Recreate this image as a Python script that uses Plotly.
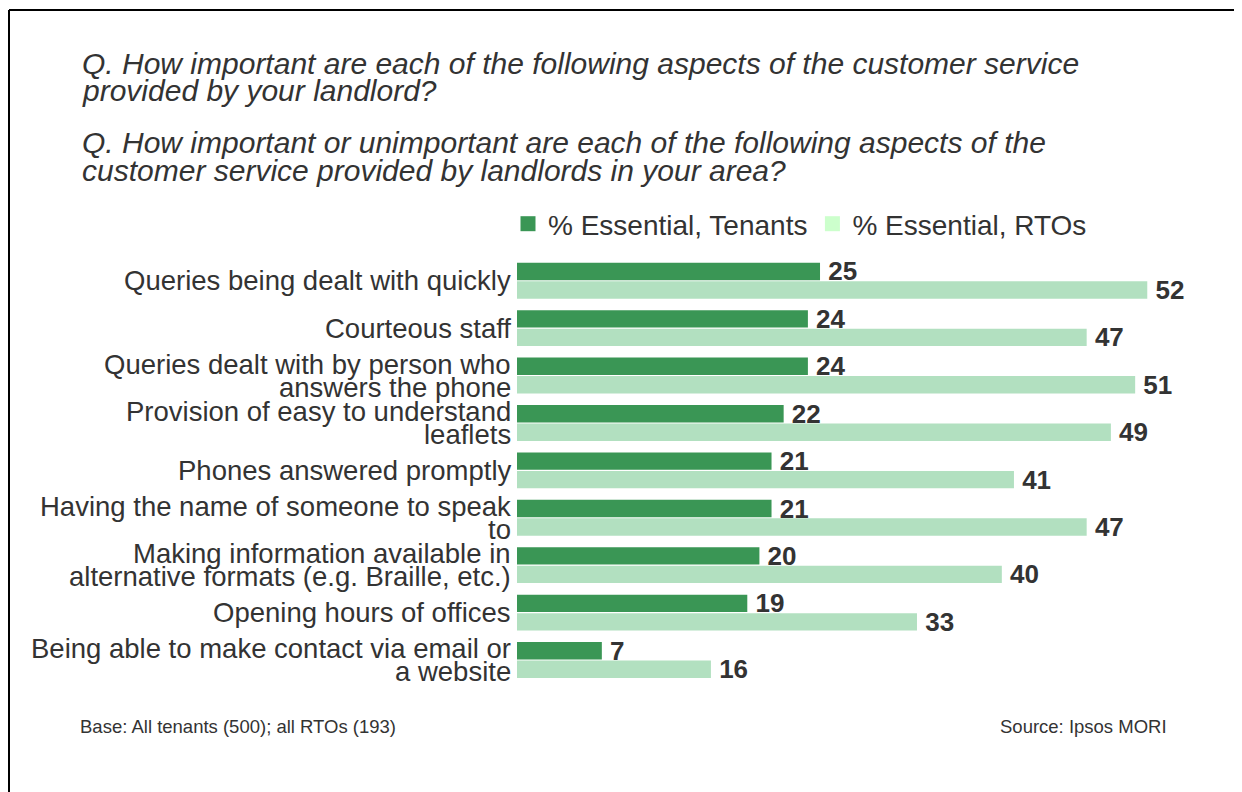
import plotly.graph_objects as go

# data
categories = [
    "Queries being dealt with quickly",
    "Courteous staff",
    "Queries dealt with by person who<br>answers the phone",
    "Provision of easy to understand<br>leaflets",
    "Phones answered promptly",
    "Having the name of someone to speak<br>to",
    "Making information available in<br>alternative formats (e.g. Braille, etc.)",
    "Opening hours of offices",
    "Being able to make contact via email or<br>a website",
]
tenants = [25, 24, 24, 22, 21, 21, 20, 19, 7]
rtos = [52, 47, 51, 49, 41, 47, 40, 33, 16]

series_names = ["% Essential, Tenants", "% Essential, RTOs"]
title_lines = [
    "Q. How important are each of the following aspects of the customer service",
    "provided by your landlord?",
    "Q. How important or unimportant are each of the following aspects of the",
    "customer service provided by landlords in your area?",
]
base_note = "Base: All tenants (500); all RTOs (193)"
source_note = "Source: Ipsos MORI"

DARK = "#3A9655"
LIGHT = "#B2E0C0"
LEGEND_LIGHT = "#CCFFCC"
TEXT = "#333333"
FONT = "Liberation Sans, Arial, sans-serif"

# page body has an 8px margin, so the figure sits 8px in from the window corner
OFF = 8
W, H = 1242 - OFF, 792 - OFF
L, R, T, B = 517 - OFF, 22, 257 - OFF, 103
PW, PH = W - L - R, H - T - B


def px(x):  # window pixel -> paper x
    return (x - OFF - L) / PW


def py(y):  # window pixel -> paper y
    return (H - B - (y - OFF)) / PH


fig = go.Figure()
for vals, color, name in [(tenants, DARK, series_names[0]), (rtos, LIGHT, series_names[1])]:
    fig.add_trace(go.Bar(
        x=vals, y=categories, orientation="h", name=name,
        marker=dict(color=color, line=dict(width=0)),
        texttemplate="\u2009%{x}", textposition="outside", constraintext="none",
        textfont=dict(family=FONT, size=26, color=TEXT, weight="bold"),
        cliponaxis=False, showlegend=False,
    ))

# legend entries (swatches as in the original)
for color, name in [(DARK, series_names[0]), (LEGEND_LIGHT, series_names[1])]:
    fig.add_trace(go.Scatter(
        x=[None], y=[None], mode="markers", name=name,
        marker=dict(symbol="square", size=15, color=color),
    ))

annotations = []
for cat in categories:
    lines = cat.split("<br>")
    n = len(lines)
    for i, line in enumerate(lines):
        annotations.append(dict(
            x=0, xref="paper", xanchor="right", xshift=-4,
            y=cat, yref="y", yanchor="middle", yshift=(n - 1) * 11.5 - i * 23,
            text=line, showarrow=False,
            font=dict(family=FONT, size=27.5, color=TEXT),
        ))

for text, yc in zip(title_lines, [64, 91, 142, 170]):
    annotations.append(dict(
        x=px(80), xref="paper", xanchor="left", y=py(yc), yref="paper", yanchor="middle",
        text=f"<i>{text}</i>", showarrow=False,
        font=dict(family=FONT, size=30, color=TEXT),
    ))

annotations.append(dict(
    x=px(78), xref="paper", xanchor="left", y=py(726), yref="paper", yanchor="middle",
    text=base_note, showarrow=False, font=dict(family=FONT, size=18.5, color=TEXT),
))
annotations.append(dict(
    x=px(1169), xref="paper", xanchor="right", y=py(726), yref="paper", yanchor="middle",
    text=source_note, showarrow=False, font=dict(family=FONT, size=18.5, color=TEXT),
))

shapes = [
    dict(type="line", xref="paper", yref="paper", x0=px(9), x1=px(1250), y0=py(10), y1=py(10),
         line=dict(color="black", width=2)),
    dict(type="line", xref="paper", yref="paper", x0=px(9), x1=px(9), y0=py(10), y1=py(800),
         line=dict(color="black", width=2)),
]

fig.update_layout(
    width=W, height=H,
    margin=dict(l=L, r=R, t=T, b=B),
    paper_bgcolor="white", plot_bgcolor="white",
    barmode="group", bargap=0.22, bargroupgap=0.06,
    font=dict(family=FONT, color=TEXT),
    legend=dict(
        orientation="h", x=px(508), xanchor="left", y=py(224), yanchor="middle",
        font=dict(family=FONT, size=28, color=TEXT), itemclick=False,
    ),
    annotations=annotations,
    shapes=shapes,
)
fig.update_xaxes(range=[0, 58], visible=False, fixedrange=True)
fig.update_yaxes(autorange="reversed", showticklabels=False, showgrid=False,
                 zeroline=False, showline=False, ticks="", fixedrange=True)

fig.write_html("out.html")
